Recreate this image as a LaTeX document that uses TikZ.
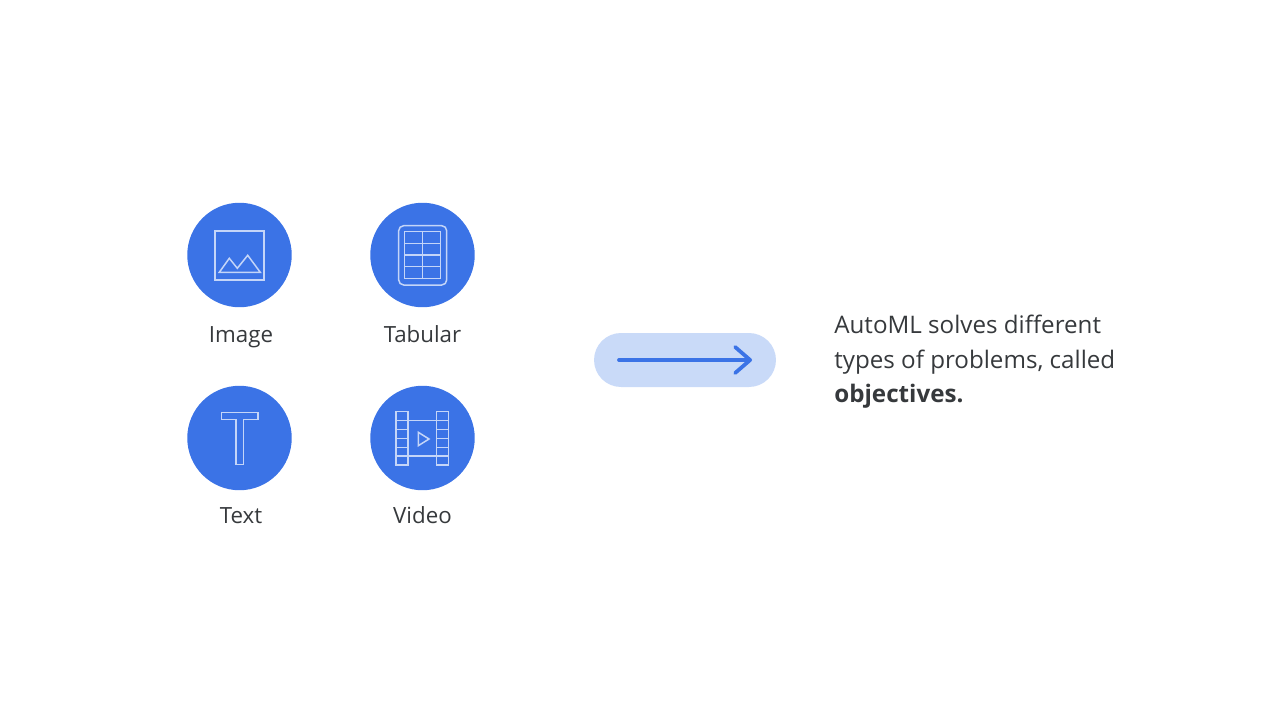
\documentclass[tikz,border=0pt]{standalone}
\usepackage{fontspec}
\setmainfont{Open Sans}
\usetikzlibrary{arrows.meta, positioning}
\definecolor{iconblue}{HTML}{3B73E6}
\definecolor{pillblue}{HTML}{C9DAF8}
\definecolor{inkgray}{HTML}{36393C}
\tikzset{
	badge/.style={circle, fill=iconblue, minimum size=2.09cm, inner sep=0pt},
	caption/.style={text=inkgray, font=\fontsize{12.7}{15}\selectfont, inner sep=0pt, anchor=base},
	glyph/.style={draw=white!70!iconblue, line width=0.85pt, line join=miter},
	pill/.style={rounded corners=0.54cm, fill=pillblue, minimum width=3.64cm, minimum height=1.08cm, inner sep=0pt},
}
\begin{document}
\begin{tikzpicture}[x=0.02cm, y=-0.02cm]
	\useasboundingbox (0,0) rectangle (1280,720);
	\node[badge] (image) at (239.5,255) {};
	\node[badge] (tabular) at (422.5,255) {};
	\node[badge] (text) at (239.5,438) {};
	\node[badge] (video) at (422.5,438) {};
	\node[caption] (imagelabel) at (241,342) {Image};
	\node[caption] (tabularlabel) at (422.5,342) {Tabular};
	\node[caption] (textlabel) at (241,523) {Text};
	\node[caption] (videolabel) at (422.5,523) {Video};
	% image icon
	\draw[glyph] (215,231) rectangle (264,280);
	\draw[glyph] (219.3,272.3) -- (229.3,258.3) -- (237.3,268.3) -- (247.7,255.3) -- (260.3,272.3) -- cycle;
	% table icon
	\draw[glyph, rounded corners=0.1cm] (398.7,225.7) rectangle (446.7,285);
	\draw[glyph] (404.7,231.7) rectangle (440.7,278.3);
	\draw[glyph] (422.7,231.7) -- (422.7,278.3);
	\foreach \y in {243.3,255,266.7}
		\draw[glyph] (404.7,\y) -- (440.7,\y);
	% letter icon
	\draw[glyph] (221.3,412.3) -- (258,412.3) -- (258,419.3) -- (243.7,419.3) -- (243.7,464.3) -- (236,464.3) -- (236,419.3) -- (221.3,419.3) -- cycle;
	% film icon
	\draw[glyph] (396,411.3) rectangle (408,465);
	\draw[glyph] (436.7,411.3) rectangle (448.7,465);
	\foreach \y in {420.7,429.3,438.3,447.3,456} {
		\draw[glyph] (396,\y) -- (408,\y);
		\draw[glyph] (436.7,\y) -- (448.7,\y);
	}
	\draw[glyph] (408,420.7) -- (436.7,420.7) (408,456) -- (436.7,456);
	\draw[glyph] (418.3,432.3) -- (429,439) -- (418.3,445.7) -- cycle;
	% arrow
	\node[pill] (band) at (685,360) {};
	\coordinate (tail) at (619,360);
	\coordinate (tip) at (752,360);
	\draw[iconblue, line width=0.075cm, line cap=round, -{Straight Barb[length=0.3cm, width=0.52cm, round]}] (tail) -- (tip);
	% description
	\node[text=inkgray, font=\fontsize{13.75}{19.64}\selectfont, align=left, anchor=north west, inner sep=0pt] (goal) at (834,315) {AutoML solves different\\types of problems, called\\\textbf{objectives.}};
\end{tikzpicture}
\end{document}
